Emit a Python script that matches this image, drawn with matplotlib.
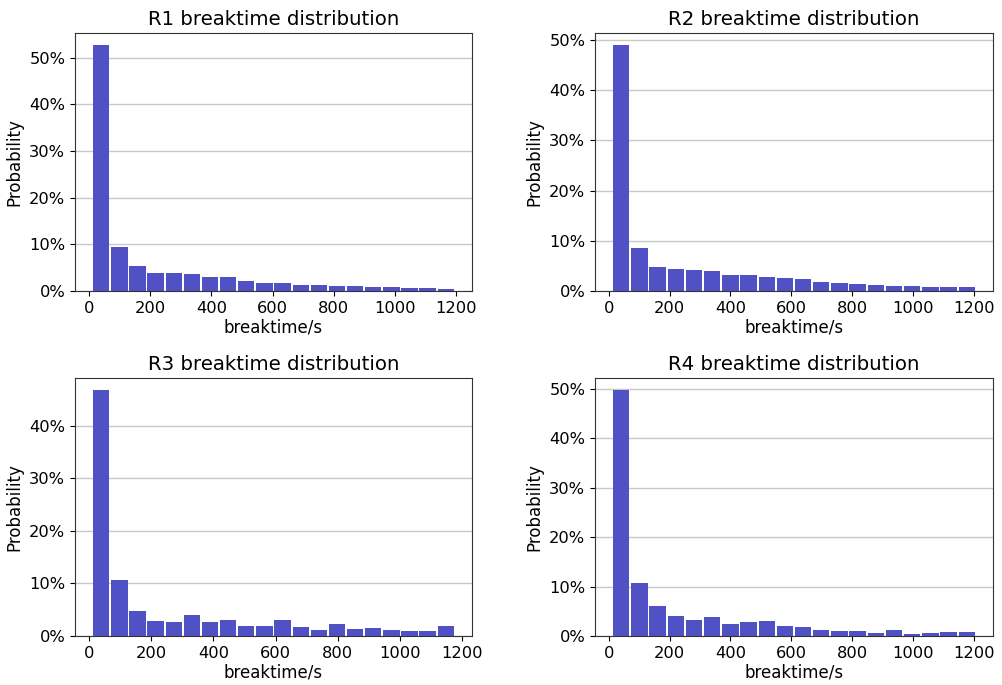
import numpy as np
import matplotlib
matplotlib.use("Agg")
import matplotlib.pyplot as plt
from matplotlib.ticker import PercentFormatter

# Share of breaks (%) in each of the 20 histogram bins, per room
r1_probs = [52.7, 9.43, 5.36, 3.86, 3.86, 3.64, 3.00, 3.00, 2.14, 1.71,
            1.71, 1.29, 1.29, 1.07, 1.07, 0.86, 0.86, 0.64, 0.64, 0.43]
r2_probs = [48.9, 8.54, 4.77, 4.37, 4.17, 3.97, 3.18, 3.18, 2.78, 2.58,
            2.38, 1.79, 1.59, 1.39, 1.19, 0.99, 0.99, 0.79, 0.79, 0.79]
r3_probs = [46.7, 10.63, 4.75, 2.85, 2.66, 3.99, 2.66, 3.04, 1.90, 1.90,
            3.04, 1.71, 1.14, 2.28, 1.33, 1.52, 1.14, 0.95, 0.95, 1.90]
r4_probs = [49.66, 10.7, 6.06, 4.04, 3.23, 3.84, 2.42, 2.83, 3.03, 2.02,
            1.82, 1.21, 1.01, 1.01, 0.61, 1.21, 0.40, 0.61, 0.81, 0.81]

# Range of observed break times (s) covered by each room's bins
r1_range = (11, 1195)
r2_range = (11, 1207)
r3_range = (11, 1176)
r4_range = (11, 1207)

titles = ["R1 breaktime distribution", "R2 breaktime distribution",
          "R3 breaktime distribution", "R4 breaktime distribution"]
xticks = [0, 200, 400, 600, 800, 1000, 1200]

panels = [(r1_probs, r1_range), (r2_probs, r2_range),
          (r3_probs, r3_range), (r4_probs, r4_range)]

bar_color = "#5151C6"

W, H = 1003, 685
fig = plt.figure(figsize=(W / 100, H / 100), dpi=100)

# axes boxes in pixels: left, top, right, bottom
boxes = [(75, 33, 472, 291), (595, 33, 993, 291),
         (75, 378, 472, 636), (595, 378, 993, 636)]

for (probs, (lo, hi)), title, (l, t, r, b) in zip(panels, titles, boxes):
    ax = fig.add_axes([l / W, 1 - b / H, (r - l) / W, (b - t) / H])
    edges = np.linspace(lo, hi, len(probs) + 1)
    centers = (edges[:-1] + edges[1:]) / 2
    ax.hist(centers, bins=edges, weights=probs, rwidth=0.9,
            color=bar_color, zorder=2)
    ax.yaxis.set_major_formatter(PercentFormatter(decimals=0))
    ax.set_xticks(xticks)
    ax.grid(axis="y", color="#c8c8c8", linewidth=1, zorder=0)
    ax.set_axisbelow(True)
    ax.tick_params(labelsize=11.7)
    ax.set_title(title, fontsize=14.2)
    ax.set_xlabel("breaktime/s", fontsize=12, labelpad=2)
    ax.set_ylabel("Probability", fontsize=12)
    for s in ax.spines.values():
        s.set_color("#333333")

fig.savefig("out.png", dpi=100)
